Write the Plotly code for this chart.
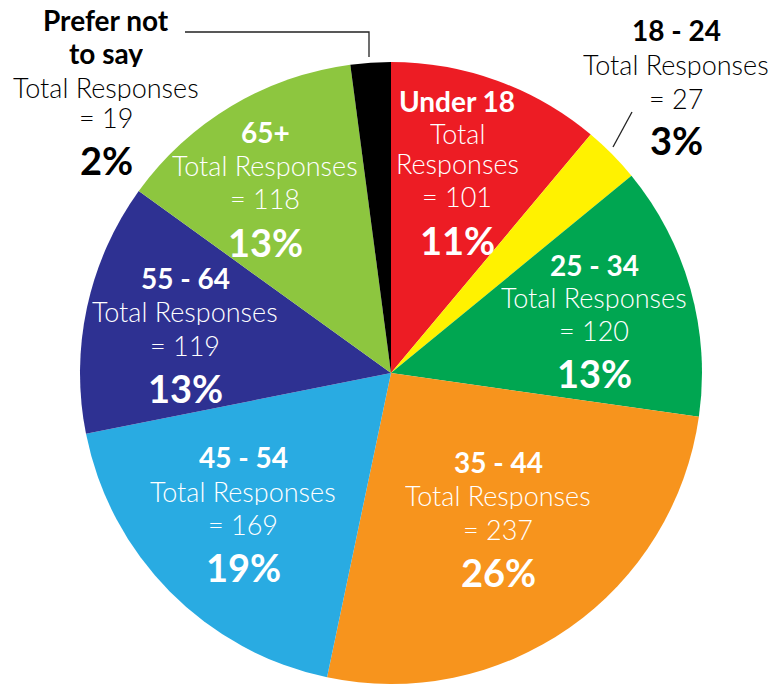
import plotly.graph_objects as go

categories = ["Under 18", "18 - 24", "25 - 34", "35 - 44", "45 - 54", "55 - 64", "65+", "Prefer not to say"]
responses = [101, 27, 120, 237, 169, 119, 118, 19]
percent_labels = ["11%", "3%", "13%", "26%", "19%", "13%", "13%", "2%"]
colors = ["#ED1C24", "#FFF200", "#00A651", "#F7941D", "#29ABE2", "#2E3192", "#8DC63F", "#000000"]

W, H = 775, 685
FONT = "Lato"

fig = go.Figure(go.Pie(
    labels=categories, values=responses, sort=False, direction="clockwise",
    marker=dict(colors=colors, line=dict(width=0)),
    textinfo="none", hoverinfo="label+value+percent", showlegend=False,
    domain=dict(x=[80 / W, 702 / W], y=[1 / H, 623 / H]),
))

# label layout (pixel centres of each text line), per category
layout_spec = {
    "Under 18": (457, [101], [133, 163], 196, 240, ["Under 18"], ["Total", "Responses"], "white"),
    "18 - 24": (676, [30], [64], 98, 140, ["18 - 24"], ["Total Responses"], "black"),
    "25 - 34": (594, [265], [297], 330, 373, ["25 - 34"], ["Total Responses"], "white"),
    "35 - 44": (498, [462], [495], 529, 572, ["35 - 44"], ["Total Responses"], "white"),
    "45 - 54": (243, [457], [491], 524, 567, ["45 - 54"], ["Total Responses"], "white"),
    "55 - 64": (185, [278], [311], 345, 388, ["55 - 64"], ["Total Responses"], "white"),
    "65+": (265, [132], [165], 198, 242, ["65+"], ["Total Responses"], "white"),
    "Prefer not to say": (106, [20, 53], [87], 117, 160, ["Prefer not", "to say"], ["Total Responses"], "black"),
}

anns = []
def add(text, x, y, size, color, bold, box_h):
    anns.append(dict(
        text=text, x=x / W, y=1 - y / H, xref="paper", yref="paper",
        xanchor="center", yanchor="middle", showarrow=False, height=box_h,
        font=dict(family=FONT, size=size, color=color, weight=700 if bold else 300),
    ))

for cat, val, pct in zip(categories, responses, percent_labels):
    x, ty, tly, yeq, ypct, tlines, tot_lines, col = layout_spec[cat]
    for t, y in zip(tlines, ty):
        add(t, x, y, 28, col, True, 28)
    for t, y in zip(tot_lines, tly):
        add(t, x, y, 27, col, False, 28)
    add(f"= {val}", x, yeq, 27, col, False, 28)
    add(pct, x, ypct, 38, col, True, 38)

def seg(points):
    p = "M " + " L ".join(f"{px / W} {1 - py / H}" for px, py in points)
    return dict(type="path", path=p, xref="paper", yref="paper", line=dict(color="#222", width=1.3))

shapes = [seg([(185, 32), (369, 32), (369, 57)]), seg([(632, 112), (613, 147)])]

fig.update_layout(
    width=W, height=H, margin=dict(l=0, r=0, t=0, b=0),
    paper_bgcolor="white", plot_bgcolor="white",
    annotations=anns, shapes=shapes,
)

fig.write_html("out.html", config={"displayModeBar": False},
               post_script="document.body.style.margin='0px';document.body.style.overflow='hidden';")
